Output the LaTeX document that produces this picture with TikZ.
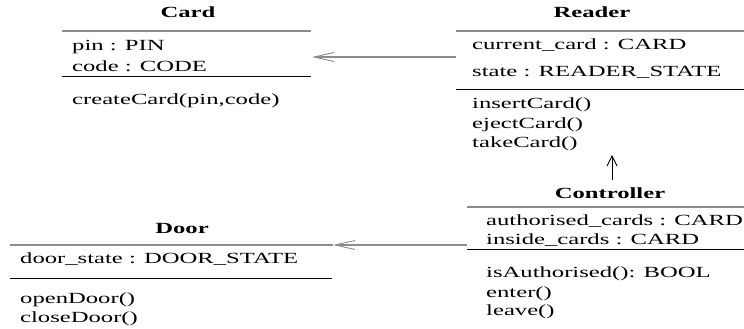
\documentclass[tikz,border=0pt]{standalone}
\usepackage{fontspec}
\setmainfont[FakeStretch=1.59]{Liberation Serif}
\usetikzlibrary{arrows.meta}
\definecolor{lg}{RGB}{140,140,140}
\tikzset{
  txt/.style={anchor=base west, inner sep=0pt, font=\fontsize{15.5}{18}\selectfont},
  ttl/.style={anchor=base, inner sep=0pt, font=\fontsize{15.5}{18}\selectfont\bfseries},
  topline/.style={draw=lg, line width=1.1pt},
  midline/.style={draw=black, line width=0.9pt},
  assoc/.style={draw=lg, line width=1.1pt, -{Straight Barb[length=20pt,width=9pt,line width=0.9pt]}},
  gen/.style={draw=black, line width=0.9pt, -{Straight Barb[length=10pt,width=10pt,line width=0.9pt]}}
}
\begin{document}
\begin{tikzpicture}[x=1pt,y=-1pt]
\useasboundingbox (0,0) rectangle (744,329);
% Card
\node[ttl] (cardT) at (188,18) {Card};
\draw[topline] (62,31) -- (311,31);
\node[txt] (cardA1) at (72,51) {pin : PIN};
\node[txt] (cardA2) at (72,71) {code : CODE};
\draw[midline] (62,76) -- (311,76);
\node[txt] (cardM1) at (72,104) {createCard(pin,code)};
% Reader
\node[ttl] (readerT) at (592,18) {Reader};
\draw[topline] (456,31) -- (744,31);
\node[txt] (readerA1) at (472,50) {current\_card : CARD};
\node[txt] (readerA2) at (472,77) {state : READER\_STATE};
\draw[midline] (456,89) -- (744,89);
\node[txt] (readerM1) at (472,108) {insertCard()};
\node[txt] (readerM2) at (472,128) {ejectCard()};
\node[txt] (readerM3) at (472,147) {takeCard()};
% Controller
\node[ttl] (ctrlT) at (610,198) {Controller};
\draw[topline] (467,207) -- (744,207);
\node[txt] (ctrlA1) at (486,225) {authorised\_cards : CARD};
\node[txt] (ctrlA2) at (486,244) {inside\_cards : CARD};
\draw[midline] (467,249) -- (744,249);
\node[txt] (ctrlM1) at (486,277) {isAuthorised(): BOOL};
\node[txt] (ctrlM2) at (486,297) {enter()};
\node[txt] (ctrlM3) at (486,315) {leave()};
% Door
\node[ttl] (doorT) at (182,233) {Door};
\draw[topline] (10,245) -- (333,245);
\node[txt] (doorA1) at (20,263) {door\_state : DOOR\_STATE};
\draw[midline] (10,278) -- (332,278);
\node[txt] (doorM1) at (20,303) {openDoor()};
\node[txt] (doorM2) at (20,322) {closeDoor()};
% connectors
\coordinate (readerL) at (456,57);
\coordinate (cardR) at (312,57);
\coordinate (ctrlL) at (467,245);
\coordinate (doorR) at (333,245);
\coordinate (ctrlTop) at (612,180);
\coordinate (readerBot) at (612,155);
\draw[assoc] (readerL) -- (cardR);
\draw[assoc] (ctrlL) -- (doorR);
\draw[gen] (ctrlTop) -- (readerBot);
\end{tikzpicture}
\end{document}
